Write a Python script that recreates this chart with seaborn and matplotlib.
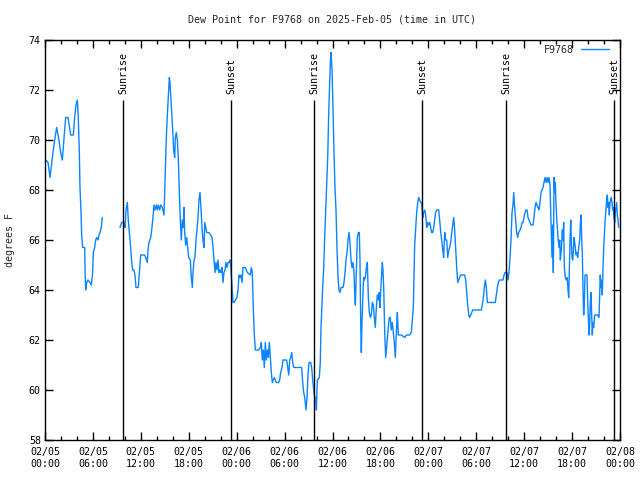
import numpy as np
import pandas as pd
import matplotlib
matplotlib.use("Agg")
import matplotlib.pyplot as plt
import matplotlib.dates as mdates
from matplotlib.lines import Line2D
import seaborn as sns

# Dew point readings for station F9768, hours after 2025-02-05 00:00 UTC
station = "F9768"
start = pd.Timestamp("2025-02-05 00:00")

hours = [
    0.10, 0.38, 0.63, 0.92, 1.21, 1.46, 1.75, 1.96, 2.17, 2.46,
    2.59, 2.88, 3.13, 3.21, 3.55, 3.71, 3.88, 4.05, 4.17, 4.30,
    4.38, 4.51, 4.59, 4.72, 4.97, 5.01, 5.09, 5.22, 5.38, 5.63,
    5.80, 5.97, 6.05, 6.22, 6.35, 6.47, 6.64, 6.76, 6.89, 7.05,
    7.18, 8.30, 9.39, 9.60, 9.73, 9.89, 10.02, 10.14, 10.31, 10.43,
    10.56, 10.73, 10.86, 10.98, 11.14, 11.27, 11.39, 11.68, 11.77, 11.90,
    11.98, 12.48, 12.61, 12.81, 12.90, 13.02, 13.24, 13.36, 13.49, 13.65,
    13.77, 13.94, 14.06, 14.19, 14.36, 14.49, 14.69, 14.90, 14.99, 15.11,
    15.19, 15.32, 15.49, 15.57, 15.65, 15.74, 15.86, 15.99, 16.11, 16.24,
    16.32, 16.44, 16.57, 16.69, 16.82, 16.94, 17.07, 17.19, 17.32, 17.41,
    17.49, 17.62, 17.74, 17.87, 17.99, 18.20, 18.32, 18.45, 18.53, 18.66,
    18.78, 18.91, 19.03, 19.16, 19.28, 19.41, 19.53, 19.66, 19.78, 19.91,
    20.00, 20.12, 20.25, 20.50, 20.75, 20.91, 21.04, 21.16, 21.29, 21.41,
    21.54, 21.66, 21.79, 21.91, 22.04, 22.16, 22.29, 22.41, 22.54, 22.66,
    22.79, 22.92, 23.04, 23.17, 23.29, 23.42, 23.54, 23.67, 23.83, 24.04,
    24.17, 24.29, 24.42, 24.54, 24.67, 24.79, 25.08, 25.21, 25.33, 25.71,
    25.83, 25.96, 26.08, 26.21, 26.34, 26.76, 26.96, 27.09, 27.21, 27.34,
    27.46, 27.59, 27.71, 27.84, 27.96, 28.09, 28.21, 28.34, 28.46, 28.59,
    28.71, 28.84, 28.96, 29.26, 29.39, 29.51, 29.68, 29.80, 30.26, 30.39,
    30.52, 30.64, 30.77, 30.89, 31.02, 31.14, 32.14, 32.27, 32.39, 32.52,
    32.68, 32.81, 32.93, 33.06, 33.27, 33.39, 33.52, 33.65, 33.77, 33.90,
    33.98, 34.10, 34.35, 34.47, 34.56, 34.69, 34.77, 34.90, 35.02, 35.15,
    35.27, 35.40, 35.52, 35.65, 35.73, 35.81, 35.94, 36.06, 36.19, 36.31,
    36.44, 36.56, 36.69, 36.81, 36.94, 37.07, 37.32, 37.44, 37.57, 37.69,
    37.82, 37.94, 38.07, 38.19, 38.32, 38.44, 38.57, 38.69, 38.78, 38.86,
    38.98, 39.11, 39.24, 39.36, 39.44, 39.53, 39.61, 39.69, 39.82, 39.90,
    39.99, 40.11, 40.24, 40.36, 40.49, 40.61, 40.74, 40.86, 40.99, 41.11,
    41.24, 41.36, 41.49, 41.61, 41.74, 41.86, 41.95, 42.04, 42.16, 42.24,
    42.32, 42.41, 42.54, 42.66, 42.74, 42.86, 42.99, 43.11, 43.24, 43.36,
    43.49, 43.61, 43.74, 43.86, 43.95, 44.04, 44.12, 44.24, 44.62, 45.04,
    45.25, 45.66, 45.87, 45.99, 46.12, 46.21, 46.29, 46.42, 46.54, 46.67,
    46.79, 46.92, 47.04, 47.17, 47.30, 47.42, 47.55, 47.67, 47.80, 47.92,
    48.05, 48.17, 48.30, 48.42, 48.55, 48.67, 48.80, 48.92, 49.05, 49.30,
    49.42, 49.55, 49.67, 49.80, 49.92, 50.05, 50.18, 50.30, 50.43, 50.55,
    50.68, 50.80, 50.93, 51.05, 51.18, 51.30, 51.43, 51.55, 51.68, 51.80,
    51.93, 52.05, 52.55, 52.68, 52.81, 52.93, 53.06, 53.18, 53.31, 53.43,
    53.56, 54.64, 54.76, 54.89, 55.01, 55.14, 55.26, 55.39, 56.39, 56.52,
    56.64, 56.77, 56.89, 57.35, 57.48, 57.60, 57.85, 57.98, 58.10, 58.23,
    58.35, 58.48, 58.60, 58.69, 58.81, 58.94, 59.06, 59.19, 59.31, 59.48,
    59.60, 59.73, 59.85, 59.98, 60.11, 60.23, 60.36, 60.48, 60.61, 60.73,
    60.86, 61.11, 61.23, 61.36, 61.48, 61.61, 61.73, 61.86, 61.98, 62.11,
    62.23, 62.36, 62.48, 62.61, 62.74, 62.86, 62.99, 63.11, 63.24, 63.36,
    63.49, 63.57, 63.65, 63.74, 63.82, 63.90, 63.99, 64.11, 64.24, 64.36,
    64.45, 64.53, 64.65, 64.78, 64.86, 64.95, 65.03, 65.15, 65.28, 65.40,
    65.49, 65.58, 65.65, 65.74, 65.83, 65.90, 65.99, 66.08, 66.15, 66.24,
    66.33, 66.40, 66.49, 66.62, 66.70, 66.83, 66.95, 67.03, 67.12, 67.21,
    67.28, 67.37, 67.45, 67.53, 67.62, 67.87, 67.95, 68.03, 68.12, 68.20,
    68.28, 68.37, 68.45, 68.53, 68.62, 68.70, 68.83, 69.20, 69.37, 69.45,
    69.53, 69.62, 69.71, 69.78, 69.87, 69.96, 70.03, 70.12, 70.21, 70.33,
    70.41, 70.50, 70.58, 70.66, 70.75, 70.84, 70.91, 71.00, 71.09, 71.16,
    71.25, 71.34, 71.41, 71.50, 71.59, 71.66, 71.75, 71.84,
]

nan = float("nan")
dewpt = [
    69.2, 69.1, 68.5, 69.3, 70.0, 70.5, 70.0, 69.5, 69.2, 70.4,
    70.9, 70.9, 70.4, 70.2, 70.2, 70.9, 71.4, 71.6, 70.9, 69.5,
    68.1, 67.1, 66.2, 65.7, 65.7, 64.9, 64.0, 64.3, 64.4, 64.3,
    64.2, 64.7, 65.5, 65.7, 66.0, 66.1, 66.0, 66.2, 66.3, 66.5,
    66.9, nan, 66.5, 66.7, 66.7, 66.7, 66.5, 67.2, 67.5, 66.8,
    66.3, 65.7, 65.1, 64.8, 64.8, 64.6, 64.1, 64.1, 64.5, 65.1,
    65.4, 65.4, 65.3, 65.1, 65.6, 65.9, 66.1, 66.4, 66.8, 67.4,
    67.2, 67.4, 67.2, 67.4, 67.2, 67.4, 67.3, 67.0, 67.9, 69.3,
    70.1, 71.0, 72.0, 72.5, 72.3, 71.8, 71.2, 70.4, 69.6, 69.3,
    70.1, 70.3, 70.0, 69.3, 67.9, 66.8, 66.0, 66.8, 66.5, 67.3,
    66.3, 65.8, 66.1, 65.7, 65.3, 65.2, 64.5, 64.1, 64.7, 65.2,
    65.3, 66.0, 66.4, 66.9, 67.6, 67.9, 67.3, 66.5, 66.0, 65.7,
    66.7, 66.5, 66.3, 66.3, 66.2, 66.1, 65.7, 65.2, 64.7, 65.1,
    64.8, 65.2, 64.7, 64.8, 64.7, 64.9, 64.3, 64.7, 64.8, 65.1,
    64.9, 65.1, 65.1, 65.2, 64.8, 64.1, 63.5, 63.5, 63.6, 63.7,
    64.0, 64.6, 64.5, 64.6, 64.3, 64.9, 64.9, 64.8, 64.7, 64.6,
    64.9, 64.7, 63.3, 62.2, 61.6, 61.6, 61.7, 61.9, 61.2, 61.6,
    60.9, 61.9, 61.2, 61.6, 61.3, 61.9, 61.3, 60.7, 60.3, 60.4,
    60.5, 60.4, 60.3, 60.3, 60.4, 60.7, 60.9, 61.2, 61.2, 60.9,
    60.6, 61.2, 61.3, 61.5, 61.1, 60.9, 60.9, 60.3, 59.9, 59.7,
    59.2, 59.7, 60.6, 61.1, 61.1, 60.9, 60.4, 60.0, 59.7, 59.7,
    59.2, 60.4, 60.5, 61.1, 62.5, 63.5, 64.1, 64.9, 66.1, 67.2,
    68.1, 69.3, 71.0, 72.3, 73.1, 73.5, 72.8, 71.3, 69.5, 68.1,
    67.2, 65.7, 64.5, 64.0, 63.9, 64.1, 64.1, 64.3, 64.7, 65.2,
    65.5, 66.0, 66.3, 65.9, 65.2, 64.9, 65.1, 64.7, 63.9, 63.4,
    64.7, 66.1, 66.3, 66.3, 65.2, 62.7, 61.5, 62.7, 63.9, 64.5,
    64.4, 64.5, 64.9, 65.1, 63.7, 63.1, 62.9, 63.0, 63.5, 63.4,
    62.9, 62.5, 63.3, 63.8, 63.6, 63.9, 63.3, 64.0, 64.7, 65.1,
    64.8, 64.1, 62.3, 61.3, 61.6, 62.1, 62.5, 62.9, 62.9, 62.4,
    62.7, 62.3, 61.9, 61.3, 62.0, 62.6, 63.1, 62.2, 62.2, 62.1,
    62.2, 62.2, 62.3, 62.8, 63.3, 64.7, 65.8, 66.5, 67.1, 67.5,
    67.7, 67.6, 67.5, 67.5, 66.9, 67.1, 67.2, 67.0, 66.5, 66.7,
    66.6, 66.7, 66.5, 66.3, 66.3, 66.5, 66.8, 67.1, 67.2, 67.2,
    66.8, 66.3, 66.0, 65.6, 65.3, 66.3, 66.0, 66.0, 65.3, 65.6,
    65.7, 65.9, 66.3, 66.6, 66.9, 66.4, 65.6, 64.9, 64.3, 64.4,
    64.5, 64.6, 64.6, 64.4, 63.9, 63.4, 63.0, 62.9, 63.0, 63.1,
    63.2, 63.2, 63.4, 63.7, 64.1, 64.4, 64.1, 63.5, 63.5, 63.8,
    64.1, 64.3, 64.4, 64.4, 64.6, 64.7, 64.7, 64.4, 64.7, 65.3,
    66.0, 67.1, 67.4, 67.9, 67.3, 66.8, 66.3, 66.1, 66.3, 66.4,
    66.5, 66.7, 66.7, 66.9, 67.1, 67.2, 67.2, 66.9, 66.8, 66.7,
    66.6, 66.6, 66.9, 67.3, 67.5, 67.4, 67.3, 67.2, 67.5, 67.9,
    68.0, 68.1, 68.3, 68.5, 68.3, 68.5, 68.3, 68.5, 68.2, 66.7,
    65.3, 66.6, 64.7, 68.5, 67.9, 68.3, 67.4, 66.7, 66.1, 65.7,
    66.0, 65.2, 65.6, 66.4, 66.0, 66.7, 64.9, 64.5, 64.4, 64.5,
    64.0, 63.7, 64.7, 66.0, 66.8, 66.0, 65.3, 65.2, 65.5, 66.1,
    65.9, 65.7, 65.4, 65.5, 65.3, 65.7, 66.0, 66.6, 67.0, 66.0,
    65.5, 64.0, 63.0, 63.5, 64.6, 64.6, 63.6, 62.9, 62.2, 62.6,
    63.5, 63.9, 63.0, 62.2, 62.7, 62.5, 63.0, 63.0, 62.9, 63.7,
    64.6, 64.1, 64.4, 63.8, 64.9, 65.7, 66.1, 66.7, 67.1, 67.6,
    67.8, 67.3, 67.5, 67.0, 67.5, 67.6, 67.7, 67.5, 67.2, 67.3,
    66.9, 66.7, 67.1, 67.3, 67.5, 67.0, 66.8, 66.5,
]

sunrise = ["2025-02-05 09:47", "2025-02-06 09:43", "2025-02-07 09:46"]
sunset = ["2025-02-05 23:18", "2025-02-06 23:14", "2025-02-07 23:16"]

assert len(hours) == len(dewpt)

df = pd.DataFrame({"time": start + pd.to_timedelta(hours, unit="h"), "dewpt": dewpt})
# a missing reading breaks the line into separate pieces
df["segment"] = df["dewpt"].isna().cumsum()
df = df.dropna()

sns.set_theme(style="ticks", rc={
    "axes.edgecolor": "black", "axes.linewidth": 1.0,
    "xtick.color": "black", "ytick.color": "black",
    "xtick.direction": "in", "ytick.direction": "in",
    "xtick.top": True, "ytick.right": True,
})
plt.rcParams["font.family"] = ["DejaVu Sans Mono"]
fs = 7.2
line_color = "#0a84ff"

fig = plt.figure(figsize=(6.4, 4.8), dpi=100)
ax = fig.add_axes([45 / 640, 40 / 480, 575 / 640, 400 / 480])

sns.lineplot(data=df, x="time", y="dewpt", units="segment", estimator=None,
             color=line_color, linewidth=1.0, legend=False, ax=ax)

t0, t1 = start, start + pd.Timedelta(hours=72)
ax.set_xlim(t0, t1)
ax.set_ylim(58, 74)
ax.set_yticks(np.arange(58, 75, 2))
ax.xaxis.set_major_locator(mdates.HourLocator(byhour=[0, 6, 12, 18]))
ax.xaxis.set_minor_locator(mdates.HourLocator(byhour=range(0, 24, 2)))
ax.xaxis.set_major_formatter(mdates.DateFormatter("%m/%d\n%H:%M"))
ax.tick_params(axis="both", which="major", length=6, width=1, labelsize=fs)
ax.tick_params(axis="x", which="minor", length=3, width=1, top=True)
ax.tick_params(axis="x", which="major", pad=5)
ax.tick_params(axis="y", which="major", pad=3)
ax.set_xlabel("")
ax.set_ylabel("")
for s in ax.spines.values():
    s.set_visible(True)

for label, times in (("Sunrise", sunrise), ("Sunset", sunset)):
    for t in pd.to_datetime(times):
        ax.vlines(t, 58, 71.6, color="black", linewidth=1.0)
        ax.text(t, 71.85, label, rotation=90, ha="center", va="bottom",
                fontsize=fs, color="black")

handle = Line2D([], [], color=line_color, linewidth=1.0)
ax.legend([handle], [station], loc="upper right", bbox_to_anchor=(1 - 6 / 575, 1),
          frameon=False, markerfirst=False, handlelength=2.8, handletextpad=0.7,
          borderaxespad=0.1, fontsize=fs)

fig.text(332 / 640, 1 - 20 / 480, f"Dew Point for {station} on 2025-Feb-05 (time in UTC)",
         ha="center", va="center", fontsize=fs)
fig.text(10 / 640, 0.5, "degrees F", rotation=90, ha="center", va="center", fontsize=fs)

fig.savefig("out.png", dpi=100)
